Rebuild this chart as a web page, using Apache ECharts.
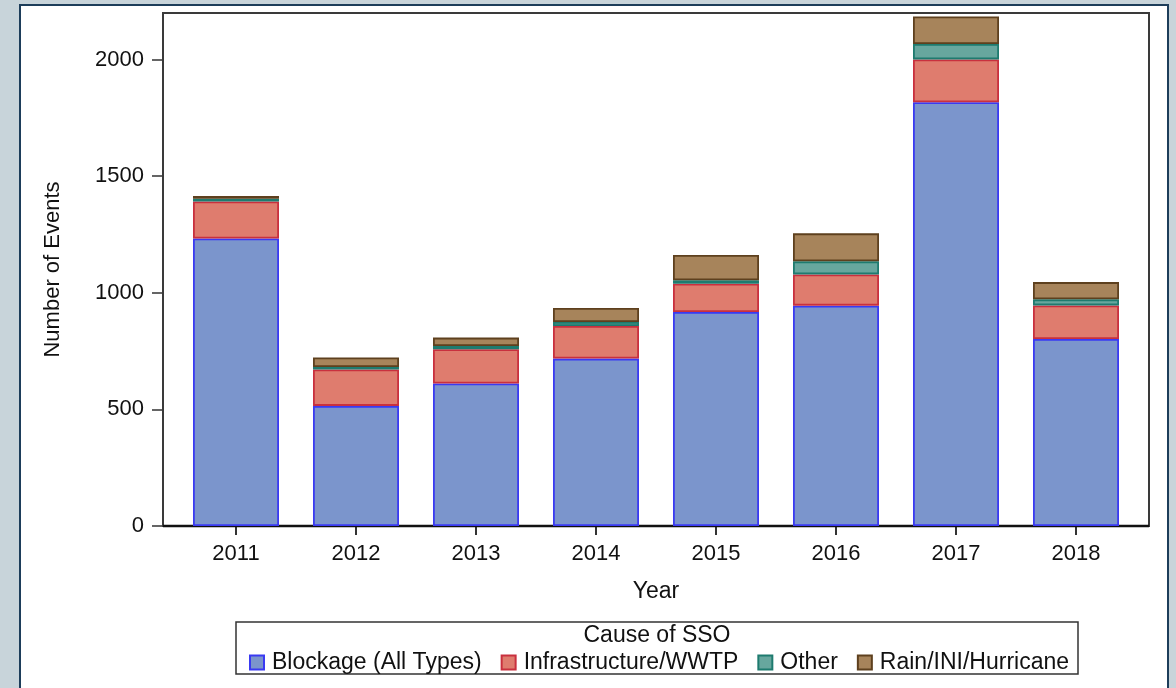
<!DOCTYPE html>
<html>
<head>
<meta charset="utf-8">
<script src="https://cdn.jsdelivr.net/npm/echarts@6/dist/echarts.min.js"></script>
<style>
  html, body { margin: 0; padding: 0; background: #c8d4da; }
  #chart { width: 1176px; height: 688px; }
</style>
</head>
<body>
<div id="chart"></div>
<script>
// data
const years = ['2011', '2012', '2013', '2014', '2015', '2016', '2017', '2018'];
const blockage = [1233, 515, 611, 718, 918, 945, 1817, 802];
const infrastructure = [159, 156, 147, 140, 121, 134, 184, 144];
const other = [11, 11, 14, 17, 15, 56, 66, 26];
const rain = [12, 41, 36, 60, 108, 120, 118, 74];
const yTicks = [0, 500, 1000, 1500, 2000];

const seriesNames = ['Blockage (All Types)', 'Infrastructure/WWTP', 'Other', 'Rain/INI/Hurricane'];
const seriesData = [blockage, infrastructure, other, rain];
const fills = ['#7b95cc', '#df7c6e', '#67a79e', '#a7845b'];
const borders = ['#3a3af2', '#c9303e', '#1e7b6f', '#5e401e'];

const font = '"Liberation Sans", Arial, sans-serif';
const chart = echarts.init(document.getElementById('chart'));

chart.setOption({
  backgroundColor: '#c8d4da',
  animation: false,
  graphic: [
    // white panel
    { type: 'rect', z: -10, shape: { x: 20, y: 5, width: 1148, height: 720 },
      style: { fill: '#fff', stroke: '#1d3d5a', lineWidth: 2 } },
    // plot frame
    { type: 'rect', z: 1, shape: { x: 163, y: 13, width: 986, height: 513 },
      style: { fill: 'none', stroke: '#3a3a3a', lineWidth: 2 } },
    { type: 'line', z: 1, shape: { x1: 163, y1: 526, x2: 1149, y2: 526 },
      style: { stroke: '#111', lineWidth: 2.5 } },
    // legend box
    { type: 'rect', z: 1, shape: { x: 236, y: 622, width: 842, height: 52 },
      style: { fill: 'none', stroke: '#333', lineWidth: 1.5 } },
    { type: 'text', z: 2, style: { x: 657, y: 636, text: 'Cause of SSO', fontSize: 23,
      fontFamily: font, fill: '#111', align: 'center', verticalAlign: 'middle' } }
  ],
  grid: { left: 176, right: 40, top: 13, bottom: 162 },
  legend: {
    data: seriesNames,
    left: 244,
    top: 646,
    itemWidth: 14,
    itemHeight: 14,
    itemGap: 19,
    icon: 'rect',
    textStyle: { fontSize: 23, fontFamily: font, color: '#111', padding: [0, 0, 0, 3] }
  },
  xAxis: {
    type: 'category',
    data: years,
    name: 'Year',
    nameLocation: 'middle',
    nameGap: 54,
    nameTextStyle: { fontSize: 23, fontFamily: font, color: '#111' },
    axisLine: { show: false },
    axisTick: { show: true, alignWithLabel: true, length: 9, lineStyle: { color: '#333', width: 2 } },
    axisLabel: { fontSize: 22, fontFamily: font, color: '#111', margin: 17 }
  },
  yAxis: {
    type: 'value',
    min: 0,
    max: 2200,
    interval: 500,
    offset: 13,
    name: 'Number of Events',
    nameLocation: 'middle',
    nameGap: 99,
    nameTextStyle: { fontSize: 22, fontFamily: font, color: '#111' },
    splitLine: { show: false },
    axisLine: { show: false },
    axisTick: { show: true, length: 11, customValues: yTicks, lineStyle: { color: '#333', width: 1.5 } },
    axisLabel: { fontSize: 22, fontFamily: font, color: '#111', margin: 19, customValues: yTicks,
      formatter: v => String(v) }
  },
  series: seriesNames.map((name, i) => ({
    name: name,
    type: 'bar',
    stack: 'sso',
    barWidth: 86,
    data: seriesData[i],
    itemStyle: { color: fills[i], borderColor: borders[i], borderWidth: 1.8 }
  }))
});
</script>
</body>
</html>
